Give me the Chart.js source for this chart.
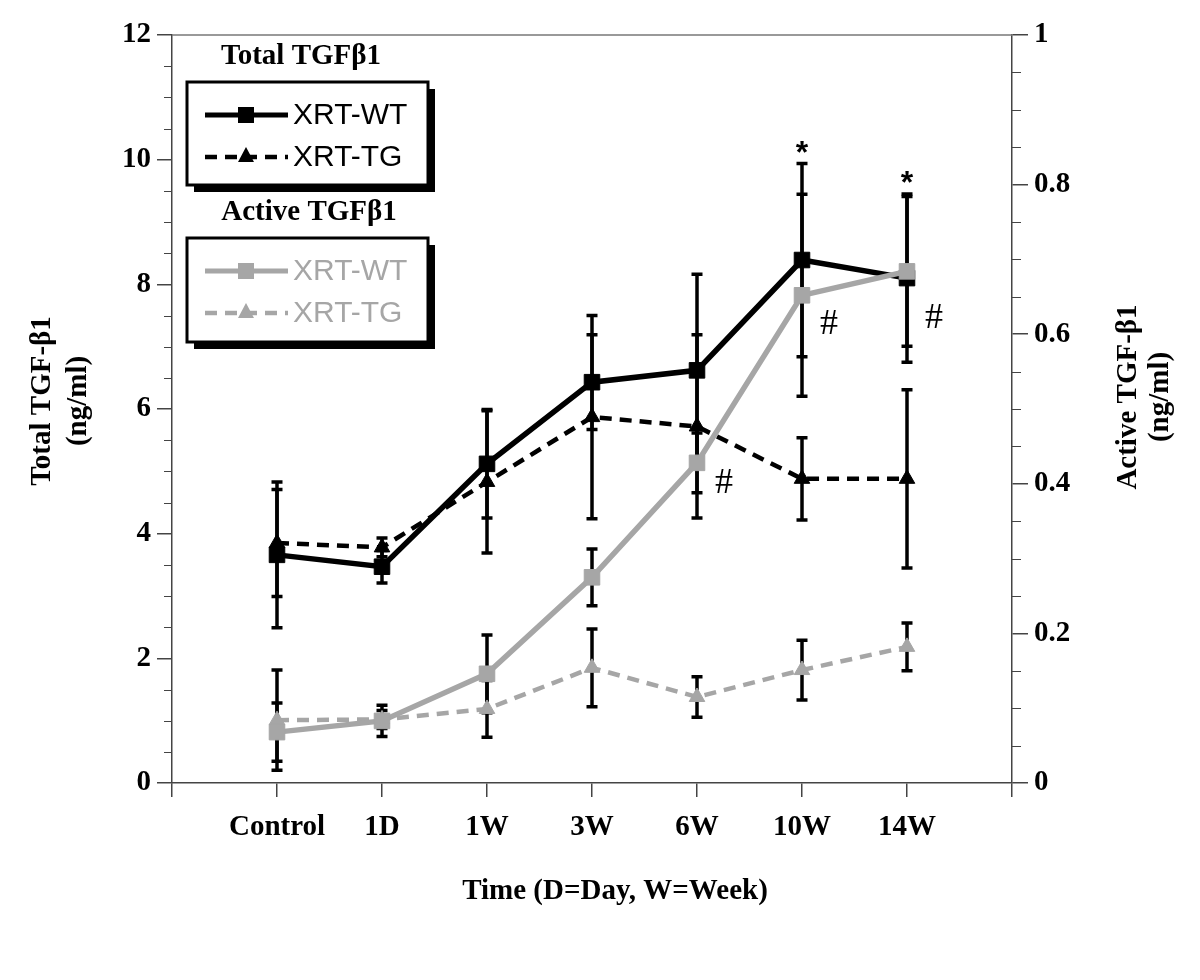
<!DOCTYPE html>
<html>
<head>
<meta charset="utf-8">
<title>TGF-β1</title>
<script src="https://cdn.jsdelivr.net/npm/chart.js@4"></script>
<style>
  html, body { margin: 0; padding: 0; background: #fff; }
  #wrap { width: 1200px; height: 980px; position: relative; }
</style>
</head>
<body>
<div id="wrap"><canvas id="chart" width="1200" height="980"></canvas></div>
<script>
// time points
const categories = ['Control', '1D', '1W', '3W', '6W', '10W', '14W']

// total TGF-b1, left axis (ng/ml)
const totalWT = [3.66, 3.47, 5.12, 6.43, 6.62, 8.39, 8.10]
const totalWTErr = [1.17, 0.26, 0.87, 0.76, 1.54, 1.55, 1.35]
const totalTG = [3.85, 3.78, 4.83, 5.87, 5.72, 4.88, 4.88]
const totalTGErr = [0.86, 0.15, 1.14, 1.63, 1.47, 0.66, 1.43]

// active TGF-b1, right axis (ng/ml)
const activeWT = [0.068, 0.083, 0.146, 0.275, 0.428, 0.652, 0.684]
const activeWTErr = [0.039, 0.021, 0.052, 0.038, 0.040, 0.135, 0.100]
const activeTG = [0.084, 0.085, 0.099, 0.154, 0.115, 0.151, 0.182]
const activeTGErr = [0.067, 0.012, 0.038, 0.052, 0.027, 0.040, 0.032]

// significance marks, y given on the left axis
const starMarks = [{ i: 5, y: 10.2 }, { i: 6, y: 9.72 }]
const hashMarks = [{ i: 4, y: 4.8 }, { i: 5, y: 7.35 }, { i: 6, y: 7.45 }]

const GRAY = '#a6a6a6'
const SERIF = '"Liberation Serif", "Times New Roman", serif'
const SANS = '"Liberation Sans", Arial, sans-serif'

const toPoints = (vals) => vals.map((v, i) => ({ x: i, y: v }))

function lineSet(label, vals, errs, axis, color, dashed, style, order) {
  return {
    label: label,
    data: toPoints(vals),
    errors: errs,
    yAxisID: axis,
    borderColor: color,
    backgroundColor: color,
    borderWidth: dashed ? 4.5 : 5.5,
    borderDash: dashed ? [12, 8] : [],
    pointStyle: style,
    pointRadius: style === 'rect' ? 11 : 9,
    pointBorderWidth: 1,
    pointBorderColor: color,
    pointBackgroundColor: color,
    tension: 0,
    order: order
  }
}

// black error bars under the markers
const errorBars = {
  id: 'errorBars',
  beforeDatasetsDraw(chart) {
    const ctx = chart.ctx
    const x = chart.scales.x
    ctx.save()
    ctx.strokeStyle = '#000'
    ctx.lineCap = 'butt'
    chart.data.datasets.forEach((ds) => {
      const ys = chart.scales[ds.yAxisID]
      ds.data.forEach((p, i) => {
        const e = ds.errors[i]
        const px = x.getPixelForValue(p.x)
        const top = ys.getPixelForValue(p.y + e)
        const bot = ys.getPixelForValue(p.y - e)
        ctx.lineWidth = 3.5
        ctx.beginPath()
        ctx.moveTo(px, top)
        ctx.lineTo(px, bot)
        ctx.stroke()
        ctx.beginPath()
        ctx.moveTo(px - 5.5, top)
        ctx.lineTo(px + 5.5, top)
        ctx.moveTo(px - 5.5, bot)
        ctx.lineTo(px + 5.5, bot)
        ctx.stroke()
      })
    })
    ctx.restore()
  }
}

function legendBox(ctx, left, top, w, h, title, titleX, color) {
  ctx.fillStyle = '#000'
  ctx.font = 'bold 29px ' + SERIF
  ctx.textAlign = 'center'
  ctx.textBaseline = 'middle'
  ctx.fillText(title, titleX, top - 25)
  // shadow
  ctx.fillRect(left + 7, top + 7, w, h)
  ctx.fillStyle = '#fff'
  ctx.fillRect(left, top, w, h)
  ctx.strokeStyle = '#000'
  ctx.lineWidth = 3
  ctx.strokeRect(left, top, w, h)

  const rows = [
    { text: 'XRT-WT', dash: [], style: 'rect', y: top + 33 },
    { text: 'XRT-TG', dash: [12, 8], style: 'triangle', y: top + 75 }
  ]
  rows.forEach((r) => {
    ctx.strokeStyle = color
    ctx.fillStyle = color
    ctx.lineWidth = r.dash.length ? 4.5 : 5
    ctx.setLineDash(r.dash)
    ctx.beginPath()
    ctx.moveTo(left + 18, r.y)
    ctx.lineTo(left + 101, r.y)
    ctx.stroke()
    ctx.setLineDash([])
    const cx = left + 59
    if (r.style === 'rect') {
      ctx.fillRect(cx - 8, r.y - 8, 16, 16)
    } else {
      ctx.beginPath()
      ctx.moveTo(cx, r.y - 10)
      ctx.lineTo(cx + 8, r.y + 5)
      ctx.lineTo(cx - 8, r.y + 5)
      ctx.closePath()
      ctx.fill()
    }
    ctx.font = '30px ' + SANS
    ctx.textAlign = 'left'
    ctx.textBaseline = 'middle'
    ctx.fillText(r.text, left + 106, r.y + 1)
  })
}

// frame, minor ticks, titles, legends and marks
const decorations = {
  id: 'decorations',
  afterDraw(chart) {
    const ctx = chart.ctx
    const a = chart.chartArea
    const y = chart.scales.y
    const y2 = chart.scales.y2
    const x = chart.scales.x
    ctx.save()

    // top frame line
    ctx.strokeStyle = '#777'
    ctx.lineWidth = 1.5
    ctx.beginPath()
    ctx.moveTo(a.left, a.top)
    ctx.lineTo(a.right, a.top)
    ctx.stroke()

    // minor ticks
    ctx.strokeStyle = '#444'
    ctx.lineWidth = 1.2
    ctx.beginPath()
    for (let v = 0.5; v < 12; v += 0.5) {
      if (v % 2 === 0) continue
      const py = Math.round(y.getPixelForValue(v)) + 0.5
      ctx.moveTo(a.left - 8, py)
      ctx.lineTo(a.left, py)
    }
    for (let k = 1; k < 20; k++) {
      if (k % 4 === 0) continue
      const py = Math.round(y2.getPixelForValue(k * 0.05)) + 0.5
      ctx.moveTo(a.right, py)
      ctx.lineTo(a.right + 9, py)
    }
    ctx.stroke()

    // axis titles
    ctx.fillStyle = '#000'
    ctx.font = 'bold 29px ' + SERIF
    ctx.textAlign = 'center'
    ctx.textBaseline = 'middle'
    const midY = (a.top + a.bottom) / 2
    ;[['Total TGF-β1', 43], ['(ng/ml)', 79]].forEach(([t, px]) => {
      ctx.save()
      ctx.translate(px, midY - 8)
      ctx.rotate(-Math.PI / 2)
      ctx.fillText(t, 0, 0)
      ctx.restore()
    })
    ;[['Active TGF-β1', 1129], ['(ng/ml)', 1161]].forEach(([t, px]) => {
      ctx.save()
      ctx.translate(px, midY - 12)
      ctx.rotate(-Math.PI / 2)
      ctx.fillText(t, 0, 0)
      ctx.restore()
    })
    ctx.fillText('Time (D=Day, W=Week)', (a.left + a.right) / 2 + 23, 892)

    // legends
    legendBox(ctx, 187, 82, 241, 103, 'Total TGFβ1', 301, '#000')
    legendBox(ctx, 187, 238, 241, 104, 'Active TGFβ1', 309, GRAY)

    // significance marks
    ctx.fillStyle = '#000'
    ctx.font = 'bold 32px ' + SANS
    ctx.textAlign = 'center'
    ctx.textBaseline = 'middle'
    starMarks.forEach((m) => {
      ctx.fillText('*', x.getPixelForValue(m.i), y.getPixelForValue(m.y) + 7)
    })
    ctx.font = '36px ' + SERIF
    hashMarks.forEach((m) => {
      ctx.fillText('#', x.getPixelForValue(m.i) + 27, y.getPixelForValue(m.y))
    })

    ctx.restore()
  }
}

const axisColor = '#444'
const tickFont = { family: SERIF, size: 29, weight: 'bold' }

new Chart(document.getElementById('chart').getContext('2d'), {
  type: 'line',
  data: {
    datasets: [
      lineSet('Active XRT-WT', activeWT, activeWTErr, 'y2', GRAY, false, 'rect', 0),
      lineSet('Active XRT-TG', activeTG, activeTGErr, 'y2', GRAY, true, 'triangle', 1),
      lineSet('Total XRT-WT', totalWT, totalWTErr, 'y', '#000', false, 'rect', 2),
      lineSet('Total XRT-TG', totalTG, totalTGErr, 'y', '#000', true, 'triangle', 3)
    ]
  },
  options: {
    responsive: false,
    animation: false,
    layout: { padding: { top: 35, left: 0, right: 0, bottom: 0 } },
    plugins: {
      legend: { display: false },
      tooltip: { enabled: false }
    },
    scales: {
      x: {
        type: 'linear',
        position: 'bottom',
        min: -1,
        max: 7,
        afterFit: (s) => { s.height = 197 },
        afterBuildTicks: (s) => {
          s.ticks = []
          for (let i = -1; i <= 7; i++) s.ticks.push({ value: i })
        },
        ticks: {
          autoSkip: false,
          maxRotation: 0,
          padding: 13,
          color: '#000',
          font: tickFont,
          callback: (v) => categories[v] || ''
        },
        grid: { drawOnChartArea: false, tickLength: 14, color: axisColor, lineWidth: 1.5 },
        border: { color: axisColor, width: 1.5 }
      },
      y: {
        position: 'left',
        min: 0,
        max: 12,
        afterFit: (s) => { s.width = 172 },
        ticks: { stepSize: 2, padding: 6, color: '#000', font: tickFont },
        grid: { drawOnChartArea: false, tickLength: 15, color: axisColor, lineWidth: 1.5 },
        border: { color: axisColor, width: 1.5 }
      },
      y2: {
        position: 'right',
        min: 0,
        max: 1,
        afterFit: (s) => { s.width = 188 },
        ticks: {
          stepSize: 0.2,
          padding: 6,
          color: '#000',
          font: tickFont,
          callback: (v) => String(+v.toFixed(1))
        },
        grid: { drawOnChartArea: false, tickLength: 16, color: axisColor, lineWidth: 1.5 },
        border: { color: axisColor, width: 1.5 }
      }
    }
  },
  plugins: [errorBars, decorations]
})
</script>
</body>
</html>
